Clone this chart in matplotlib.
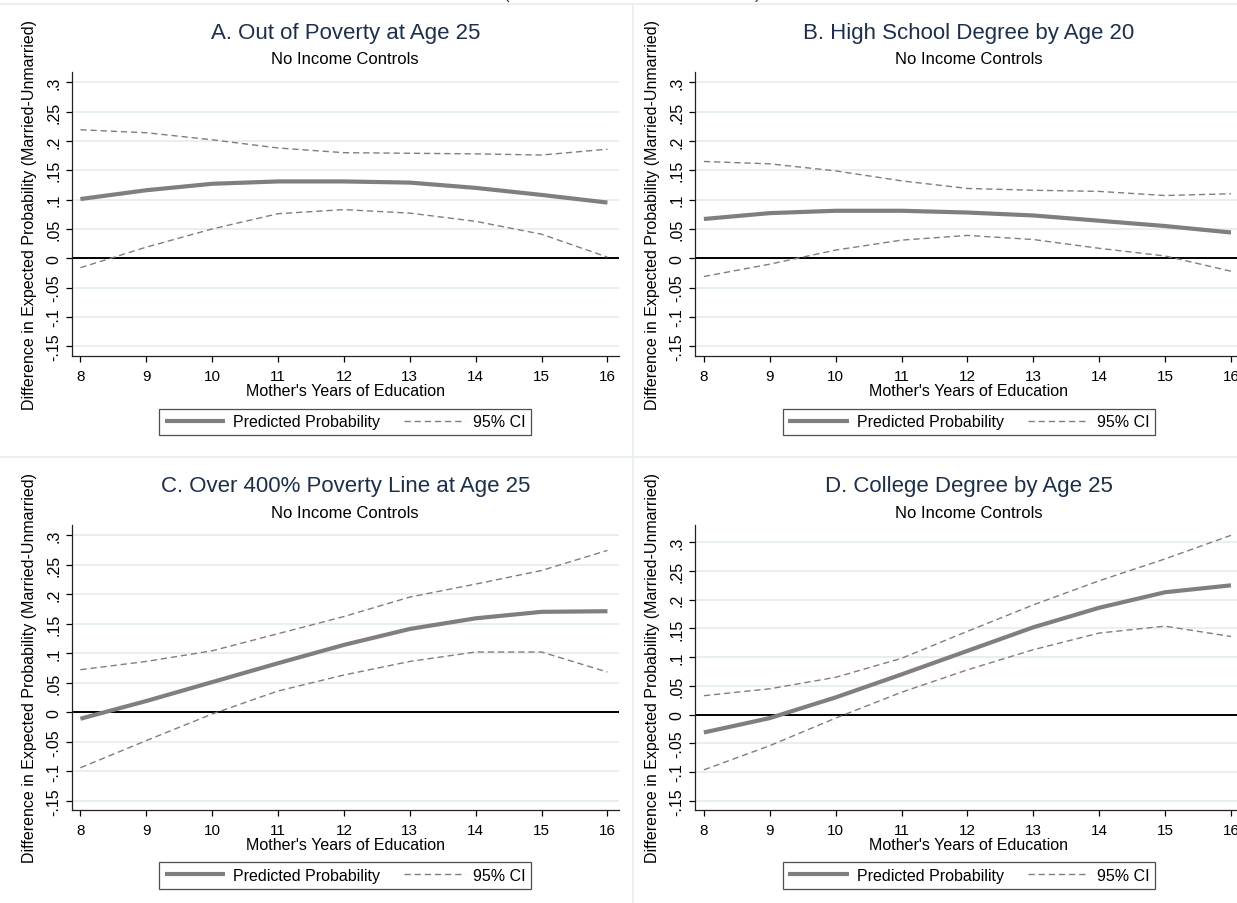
import numpy as np
import matplotlib
matplotlib.use("Agg")
import matplotlib.pyplot as plt
from matplotlib.lines import Line2D

plt.rcParams["font.family"] = ["Liberation Sans", "DejaVu Sans"]

# --- data ------------------------------------------------------------------
EDUC = [8, 9, 10, 11, 12, 13, 14, 15, 16]

titles = ["A. Out of Poverty at Age 25", "B. High School Degree by Age 20",
          "C. Over 400% Poverty Line at Age 25", "D. College Degree by Age 25"]
subtitle = "No Income Controls"

pred_a = [0.101, 0.116, 0.127, 0.131, 0.131, 0.129, 0.120, 0.108, 0.095]
upper_a = [0.219, 0.214, 0.202, 0.188, 0.180, 0.179, 0.178, 0.176, 0.186]
lower_a = [-0.016, 0.019, 0.050, 0.076, 0.083, 0.077, 0.063, 0.041, 0.002]

pred_b = [0.067, 0.077, 0.081, 0.081, 0.078, 0.073, 0.064, 0.055, 0.044]
upper_b = [0.165, 0.161, 0.149, 0.132, 0.119, 0.116, 0.114, 0.107, 0.110]
lower_b = [-0.031, -0.010, 0.014, 0.031, 0.039, 0.032, 0.017, 0.004, -0.022]

pred_c = [-0.011, 0.019, 0.051, 0.083, 0.114, 0.141, 0.159, 0.170, 0.171]
upper_c = [0.072, 0.086, 0.104, 0.133, 0.162, 0.195, 0.217, 0.240, 0.274]
lower_c = [-0.094, -0.048, -0.003, 0.036, 0.063, 0.086, 0.102, 0.102, 0.068]

pred_d = [-0.031, -0.006, 0.030, 0.070, 0.111, 0.152, 0.186, 0.213, 0.225]
upper_d = [0.033, 0.045, 0.065, 0.098, 0.145, 0.191, 0.233, 0.271, 0.312]
lower_d = [-0.096, -0.054, -0.006, 0.039, 0.078, 0.113, 0.142, 0.154, 0.136]

YTICKS = [-0.15, -0.1, -0.05, 0, 0.05, 0.1, 0.15, 0.2, 0.25, 0.3]
YTICK_LABELS = ["-.15", "-.1", "-.05", "0", ".05", ".1", ".15", ".2", ".25", ".3"]
XTICKS = EDUC

ylabel = "Difference in Expected Probability (Married-Unmarried)"
xlabel = "Mother's Years of Education"

# --- layout (pixels of a 1237x904 canvas) ----------------------------------
W, H = 1237, 904
GRID = "#e6eef0"
LINE = "#7f7f7f"
TITLE_C = "#1c2f4c"

panels = [
    # (left, top, bottom, ylim)
    (71.5, 73, 357, (-0.1665, 0.3175)),
    (695.0, 73, 357, (-0.1665, 0.3175)),
    (71.5, 526, 810.7, (-0.165, 0.317)),
    (695.0, 526, 810.7, (-0.1654, 0.330)),
]
series = [(pred_a, upper_a, lower_a), (pred_b, upper_b, lower_b),
          (pred_c, upper_c, lower_c), (pred_d, upper_d, lower_d)]
AX_W = 547.5

fig = plt.figure(figsize=(W / 100, H / 100), dpi=100)

# faint panel separators and clipped caption bits at the top edge
for y in (5, 458):
    fig.add_artist(Line2D([0, 1], [1 - y / H, 1 - y / H], color=GRID, lw=1.2))
fig.add_artist(Line2D([632.5 / W] * 2, [0, 1 - 5 / H], color=GRID, lw=1.2))
fig.text(507 / W, 1 + 6 / H, "(", fontsize=12, ha="center", va="center", color="#333333")
fig.text(758 / W, 1 + 6 / H, ")", fontsize=12, ha="center", va="center", color="#333333")

for (left, top, bottom, ylim), (pred, up, lo), title in zip(panels, series, titles):
    ax = fig.add_axes([left / W, 1 - bottom / H, AX_W / W, (bottom - top) / H])
    ax.set_xlim(7.865, 16.175)
    ax.set_ylim(*ylim)
    ax.set_yticks(YTICKS)
    ax.set_yticklabels(YTICK_LABELS, rotation=90, va="center")
    ax.set_xticks(XTICKS)
    ax.set_xticklabels([str(v) for v in XTICKS])
    ax.tick_params(axis="both", length=4.5, width=0.9, direction="out")
    ax.tick_params(axis="y", pad=3, labelsize=11.5)
    ax.tick_params(axis="x", pad=5, labelsize=11)
    for s in ("top", "right"):
        ax.spines[s].set_visible(False)
    for s in ("left", "bottom"):
        ax.spines[s].set_linewidth(0.9)
        ax.spines[s].set_color("#222222")
    for t in YTICKS:
        if t != 0:
            ax.axhline(t, color=GRID, lw=1.3, zorder=0)
    ax.axhline(0, color="black", lw=1.4, zorder=1)

    ax.plot(EDUC, pred, color=LINE, lw=3.0, solid_capstyle="butt", zorder=3,
            label="Predicted Probability")
    ax.plot(EDUC, up, color=LINE, lw=1.0, ls=(0, (4.5, 2.8)), zorder=2, label="95% CI")
    ax.plot(EDUC, lo, color=LINE, lw=1.0, ls=(0, (4.5, 2.8)), zorder=2)

    h = bottom - top
    ax.set_ylabel(ylabel, fontsize=11.5)
    ax.yaxis.set_label_coords(-34.5 / AX_W, 0.5)
    ax.set_xlabel(xlabel, fontsize=11.5, va="top")
    ax.xaxis.set_label_coords(0.5, -(384 - 357) / h)

    ax.text(0.5, 1 + (top - (34 if top < 400 else 487)) / h, title, transform=ax.transAxes,
            ha="center", va="center", fontsize=16, color=TITLE_C)
    ax.text(0.5, 1 + (top - (60 if top < 400 else 513)) / h, subtitle, transform=ax.transAxes,
            ha="center", va="center", fontsize=12, color="black")

    leg = ax.legend(loc="upper center", bbox_to_anchor=(0.5, -0.185), ncol=2,
                    fontsize=11.5, frameon=True, fancybox=False, edgecolor="#222222",
                    handlelength=3.8, handletextpad=0.5, columnspacing=1.5,
                    borderpad=0.35, borderaxespad=0)
    leg.get_frame().set_linewidth(0.9)

fig.savefig("out.png", dpi=100, facecolor="white")
